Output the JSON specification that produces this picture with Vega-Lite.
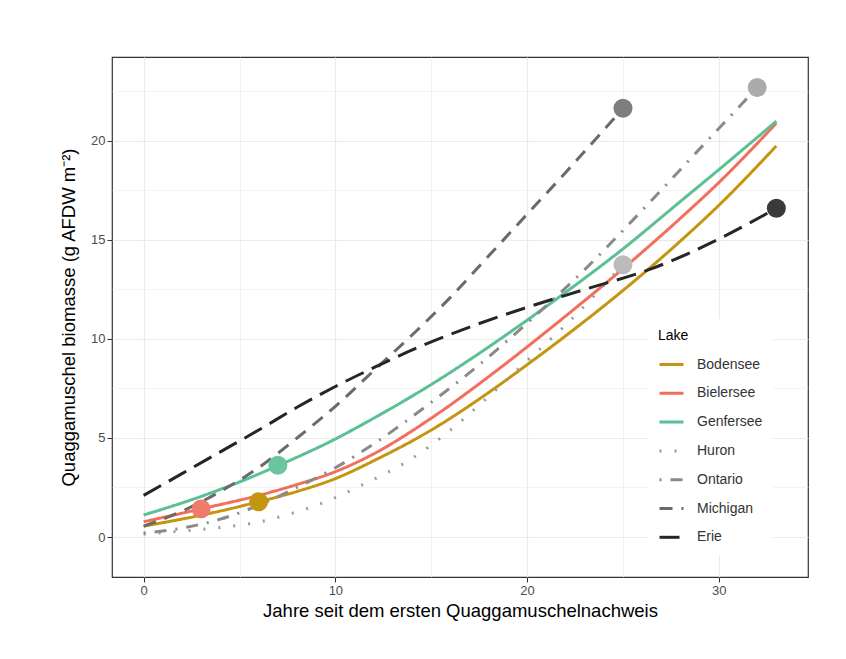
{
  "$schema": "https://vega.github.io/schema/vega-lite/v6.json",
  "width": 696,
  "height": 520,
  "autosize": {"type": "none"},
  "padding": {"left": 112, "top": 57, "right": 38, "bottom": 82},
  "background": "white",
  "config": {
    "font": "Liberation Sans",
    "view": {"stroke": "#333333", "strokeWidth": 1.2},
    "axis": {
      "domain": false,
      "gridColor": "#ebebeb",
      "tickColor": "#333333",
      "tickSize": 5,
      "labelColor": "#4d4d4d",
      "labelFontSize": 13,
      "labelPadding": 2,
      "titleFontSize": 18.5,
      "titleFontWeight": "normal",
      "titleColor": "#000000"
    }
  },
  "datasets": {
    "curves": [
      {"Lake": "Bodensee", "x": 0, "y": 0.55}, {"Lake": "Bodensee", "x": 3, "y": 1.1}, {"Lake": "Bodensee", "x": 6, "y": 1.78}, {"Lake": "Bodensee", "x": 8, "y": 2.3}, {"Lake": "Bodensee", "x": 10, "y": 2.95}, {"Lake": "Bodensee", "x": 12, "y": 3.85}, {"Lake": "Bodensee", "x": 15, "y": 5.4}, {"Lake": "Bodensee", "x": 18, "y": 7.3}, {"Lake": "Bodensee", "x": 20, "y": 8.7}, {"Lake": "Bodensee", "x": 22, "y": 10.15}, {"Lake": "Bodensee", "x": 25, "y": 12.45}, {"Lake": "Bodensee", "x": 28, "y": 14.95}, {"Lake": "Bodensee", "x": 30, "y": 16.75}, {"Lake": "Bodensee", "x": 33, "y": 19.75},
      {"Lake": "Bielersee", "x": 0, "y": 0.77}, {"Lake": "Bielersee", "x": 3, "y": 1.42}, {"Lake": "Bielersee", "x": 6, "y": 2.1}, {"Lake": "Bielersee", "x": 8, "y": 2.65}, {"Lake": "Bielersee", "x": 10, "y": 3.3}, {"Lake": "Bielersee", "x": 12, "y": 4.2}, {"Lake": "Bielersee", "x": 15, "y": 6.0}, {"Lake": "Bielersee", "x": 18, "y": 8.1}, {"Lake": "Bielersee", "x": 20, "y": 9.6}, {"Lake": "Bielersee", "x": 22, "y": 11.15}, {"Lake": "Bielersee", "x": 25, "y": 13.55}, {"Lake": "Bielersee", "x": 28, "y": 16.1}, {"Lake": "Bielersee", "x": 30, "y": 17.9}, {"Lake": "Bielersee", "x": 33, "y": 20.9},
      {"Lake": "Genfersee", "x": 0, "y": 1.11}, {"Lake": "Genfersee", "x": 3, "y": 2.05}, {"Lake": "Genfersee", "x": 5, "y": 2.78}, {"Lake": "Genfersee", "x": 7, "y": 3.6}, {"Lake": "Genfersee", "x": 10, "y": 4.95}, {"Lake": "Genfersee", "x": 12, "y": 6.0}, {"Lake": "Genfersee", "x": 15, "y": 7.7}, {"Lake": "Genfersee", "x": 18, "y": 9.6}, {"Lake": "Genfersee", "x": 20, "y": 10.95}, {"Lake": "Genfersee", "x": 22, "y": 12.35}, {"Lake": "Genfersee", "x": 25, "y": 14.55}, {"Lake": "Genfersee", "x": 28, "y": 16.95}, {"Lake": "Genfersee", "x": 30, "y": 18.55}, {"Lake": "Genfersee", "x": 33, "y": 21.0},
      {"Lake": "Huron", "x": 0, "y": 0.15}, {"Lake": "Huron", "x": 2, "y": 0.3}, {"Lake": "Huron", "x": 4, "y": 0.48}, {"Lake": "Huron", "x": 6, "y": 0.75}, {"Lake": "Huron", "x": 7.4, "y": 1.1}, {"Lake": "Huron", "x": 9.5, "y": 1.78}, {"Lake": "Huron", "x": 11.4, "y": 2.63}, {"Lake": "Huron", "x": 12.6, "y": 3.2}, {"Lake": "Huron", "x": 14, "y": 3.97}, {"Lake": "Huron", "x": 16, "y": 5.4}, {"Lake": "Huron", "x": 18, "y": 7.1}, {"Lake": "Huron", "x": 20, "y": 8.9}, {"Lake": "Huron", "x": 22, "y": 10.7}, {"Lake": "Huron", "x": 25, "y": 13.75},
      {"Lake": "Ontario", "x": 0, "y": 0.2}, {"Lake": "Ontario", "x": 2, "y": 0.45}, {"Lake": "Ontario", "x": 4, "y": 0.9}, {"Lake": "Ontario", "x": 6, "y": 1.6}, {"Lake": "Ontario", "x": 8, "y": 2.5}, {"Lake": "Ontario", "x": 10, "y": 3.5}, {"Lake": "Ontario", "x": 12, "y": 4.7}, {"Lake": "Ontario", "x": 15, "y": 6.8}, {"Lake": "Ontario", "x": 17, "y": 8.3}, {"Lake": "Ontario", "x": 20, "y": 10.8}, {"Lake": "Ontario", "x": 23, "y": 13.5}, {"Lake": "Ontario", "x": 26, "y": 16.5}, {"Lake": "Ontario", "x": 29, "y": 19.6}, {"Lake": "Ontario", "x": 32, "y": 22.7},
      {"Lake": "Michigan", "x": 0, "y": 0.55}, {"Lake": "Michigan", "x": 2, "y": 1.3}, {"Lake": "Michigan", "x": 4, "y": 2.3}, {"Lake": "Michigan", "x": 6, "y": 3.5}, {"Lake": "Michigan", "x": 8, "y": 5.0}, {"Lake": "Michigan", "x": 10, "y": 6.6}, {"Lake": "Michigan", "x": 12, "y": 8.4}, {"Lake": "Michigan", "x": 14, "y": 10.2}, {"Lake": "Michigan", "x": 16, "y": 12.1}, {"Lake": "Michigan", "x": 18, "y": 14.2}, {"Lake": "Michigan", "x": 20, "y": 16.3}, {"Lake": "Michigan", "x": 22, "y": 18.4}, {"Lake": "Michigan", "x": 25, "y": 21.65},
      {"Lake": "Erie", "x": 0, "y": 2.1}, {"Lake": "Erie", "x": 2, "y": 3.2}, {"Lake": "Erie", "x": 4, "y": 4.3}, {"Lake": "Erie", "x": 6, "y": 5.4}, {"Lake": "Erie", "x": 8, "y": 6.55}, {"Lake": "Erie", "x": 10, "y": 7.6}, {"Lake": "Erie", "x": 12, "y": 8.55}, {"Lake": "Erie", "x": 14.5, "y": 9.65}, {"Lake": "Erie", "x": 17, "y": 10.6}, {"Lake": "Erie", "x": 20, "y": 11.6}, {"Lake": "Erie", "x": 23, "y": 12.5}, {"Lake": "Erie", "x": 26.5, "y": 13.55}, {"Lake": "Erie", "x": 30, "y": 15.05}, {"Lake": "Erie", "x": 33, "y": 16.6}
    ],
    "points": [
      {"Lake": "Bodensee", "x": 6, "y": 1.78},
      {"Lake": "Bielersee", "x": 3, "y": 1.42},
      {"Lake": "Genfersee", "x": 7, "y": 3.62},
      {"Lake": "Huron", "x": 25, "y": 13.75},
      {"Lake": "Ontario", "x": 32, "y": 22.7},
      {"Lake": "Michigan", "x": 25, "y": 21.65},
      {"Lake": "Erie", "x": 33, "y": 16.6}
    ]
  },
  "layer": [
    {
      "data": {"name": "curves"},
      "mark": {"type": "line", "interpolate": "monotone"},
      "encoding": {
        "x": {
          "field": "x", "type": "quantitative",
          "scale": {"domain": [-1.65, 34.65], "nice": false, "zero": false},
          "axis": {
            "title": "Jahre seit dem ersten Quaggamuschelnachweis",
            "values": [0, 5, 10, 15, 20, 25, 30],
            "labelExpr": "datum.value % 10 === 0 ? format(datum.value, 'd') : ''",
            "tickOpacity": {"condition": {"test": "datum.value % 10 === 0", "value": 1}, "value": 0},
            "gridWidth": {"condition": {"test": "datum.value % 10 === 0", "value": 1.2}, "value": 0.6},
            "titlePadding": 4
          }
        },
        "y": {
          "field": "y", "type": "quantitative",
          "scale": {"domain": [-2.02, 24.24], "nice": false, "zero": false},
          "axis": {
            "title": "Quaggamuschel biomasse (g AFDW m⁻²)",
            "values": [0, 2.5, 5, 7.5, 10, 12.5, 15, 17.5, 20, 22.5],
            "labelExpr": "datum.value % 5 === 0 ? format(datum.value, 'd') : ''",
            "tickOpacity": {"condition": {"test": "datum.value % 5 === 0", "value": 1}, "value": 0},
            "gridWidth": {"condition": {"test": "datum.value % 5 === 0", "value": 1.2}, "value": 0.6},
            "titlePadding": 12
          }
        },
        "color": {
          "field": "Lake", "type": "nominal",
          "scale": {
            "domain": ["Bodensee", "Bielersee", "Genfersee", "Huron", "Ontario", "Michigan", "Erie"],
            "range": ["#C4960F", "#F26F5E", "#5BC094", "#9a9a9a", "#8a8a8a", "#6a6a6a", "#262626"]
          },
          "legend": {
            "title": "Lake", "orient": "none", "legendX": 536, "legendY": 262,
            "fillColor": "white", "padding": 10, "titleFontSize": 14, "titleFontWeight": "normal", "titleColor": "#000000",
            "titlePadding": 8, "labelFontSize": 14, "labelColor": "#333333", "symbolType": "stroke", "symbolSize": 576,
            "labelOffset": 12, "rowPadding": 7.8
          }
        },
        "strokeDash": {
          "field": "Lake", "type": "nominal",
          "scale": {
            "domain": ["Bodensee", "Bielersee", "Genfersee", "Huron", "Ontario", "Michigan", "Erie"],
            "range": [[1, 0], [1, 0], [1, 0], [2, 13], [2, 9, 12, 9], [13, 9], [20, 9]]
          },
          "legend": {
            "title": "Lake", "orient": "none", "legendX": 536, "legendY": 262,
            "fillColor": "white", "padding": 10, "titleFontSize": 14, "titleFontWeight": "normal", "titleColor": "#000000",
            "titlePadding": 8, "labelFontSize": 14, "labelColor": "#333333", "symbolType": "stroke", "symbolSize": 576,
            "labelOffset": 12, "rowPadding": 7.8
          }
        },
        "strokeWidth": {
          "field": "Lake", "type": "nominal",
          "scale": {
            "domain": ["Bodensee", "Bielersee", "Genfersee", "Huron", "Ontario", "Michigan", "Erie"],
            "range": [3, 3, 3, 2.5, 2.2, 2.5, 3.5]
          },
          "legend": {
            "title": "Lake", "orient": "none", "legendX": 536, "legendY": 262,
            "fillColor": "white", "padding": 10, "titleFontSize": 14, "titleFontWeight": "normal", "titleColor": "#000000",
            "titlePadding": 8, "labelFontSize": 14, "labelColor": "#333333", "symbolType": "stroke", "symbolSize": 576,
            "labelOffset": 12, "rowPadding": 7.8
          }
        }
      }
    },
    {
      "data": {"name": "points"},
      "mark": {"type": "circle", "opacity": 1, "size": 360, "filled": true},
      "encoding": {
        "x": {"field": "x", "type": "quantitative"},
        "y": {"field": "y", "type": "quantitative"},
        "fill": {
          "field": "Lake", "type": "nominal",
          "scale": {
            "domain": ["Erie", "Michigan", "Ontario", "Huron", "Genfersee", "Bielersee", "Bodensee"],
            "range": ["#3A3A3A", "#7E7E7E", "#ABABAB", "#BBBBBB", "#6CC5A0", "#F07B6C", "#C4960F"]
          },
          "legend": null
        }
      }
    }
  ]
}
